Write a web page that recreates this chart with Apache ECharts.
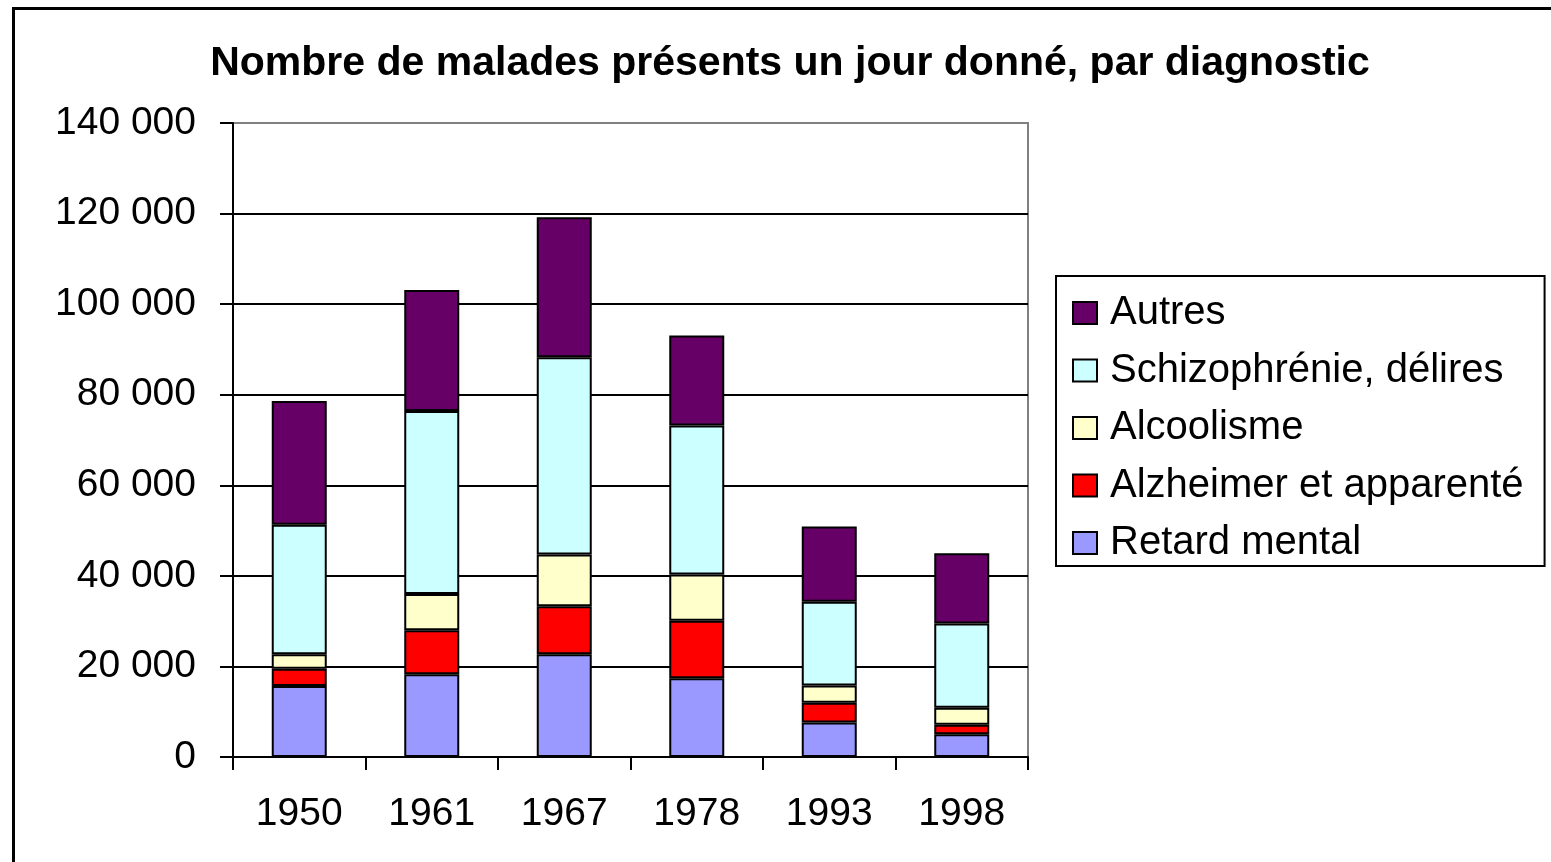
<!DOCTYPE html>
<html>
<head>
<meta charset="utf-8">
<title>Nombre de malades présents un jour donné, par diagnostic</title>
<script src="https://cdn.jsdelivr.net/npm/echarts@6/dist/echarts.min.js"></script>
<style>
	html, body { margin: 0; padding: 0; background: #fff; overflow: hidden; }
	#main { position: absolute; left: 0; top: 0; width: 1551px; height: 862px; }
	#cadre { position: absolute; left: 12px; top: 7px; width: 1600px; height: 900px; border: 3px solid #000; pointer-events: none; }
	#coin { position: absolute; left: 0; top: 0; width: 62px; height: 10px; background: linear-gradient(to right, #4848c8, #ffffff); }
</style>
</head>
<body>
<div id="coin"></div>
<div id="main"></div>
<div id="cadre"></div>
<script>
// données
var annees = ['1950', '1961', '1967', '1978', '1993', '1998'];
var retard = [15700, 18300, 22700, 17400, 7600, 5000];
var alzheimer = [3800, 9700, 10600, 12700, 4400, 2100];
var alcoolisme = [3200, 8000, 11400, 10200, 3800, 3800];
var schizo = [28600, 40400, 43600, 32900, 18500, 18600];
var autres = [27300, 26700, 30900, 19900, 16600, 15500];

var noms = ['Retard mental', 'Alzheimer et apparenté', 'Alcoolisme', 'Schizophrénie, délires', 'Autres'];
var couleurs = ['#9999FF', '#FF0000', '#FFFFCC', '#CCFFFF', '#660066'];
var valeurs = [retard, alzheimer, alcoolisme, schizo, autres];

var police = '"Liberation Sans", Arial, sans-serif';

var myChart = echarts.init(document.getElementById('main'));

var series = [];
for (var i = 0; i < noms.length; i++) {
	series.push({
		name: noms[i],
		type: 'bar',
		stack: 'total',
		barWidth: 55,
		data: valeurs[i],
		itemStyle: { color: couleurs[i], borderColor: '#000', borderWidth: 2 }
	});
}

var option = {
	animation: false,
	backgroundColor: '#fff',
	textStyle: { fontFamily: police },
	title: {
		text: 'Nombre de malades présents un jour donné, par diagnostic',
		left: 785,
		top: 38,
		textAlign: 'center',
		textStyle: { fontFamily: police, fontSize: 41, fontWeight: 'bold', color: '#000' }
	},
	legend: {
		orient: 'vertical',
		left: 1056,
		top: 276,
		padding: [17, 21, 3, 16],
		itemGap: 17.5,
		itemWidth: 24,
		itemHeight: 22,
		backgroundColor: '#fff',
		borderColor: '#000',
		borderWidth: 2,
		borderRadius: 0,
		icon: 'rect',
		data: noms.slice().reverse(),
		textStyle: { fontFamily: police, fontSize: 40, color: '#000', lineHeight: 40, padding: [0, 0, 0, 8] }
	},
	grid: {
		left: 233,
		right: 523,
		top: 123,
		bottom: 105,
		show: true,
		borderColor: '#808080',
		borderWidth: 2
	},
	xAxis: {
		type: 'category',
		data: annees,
		axisLine: { lineStyle: { color: '#000', width: 2 } },
		axisTick: { show: true, length: 13, alignWithLabel: false, lineStyle: { color: '#000', width: 2 } },
		axisLabel: { color: '#000', fontSize: 39, fontFamily: police, margin: 38 }
	},
	yAxis: {
		type: 'value',
		min: 0,
		max: 140000,
		interval: 20000,
		axisLine: { show: true, lineStyle: { color: '#000', width: 2 } },
		axisTick: { show: true, length: 13, lineStyle: { color: '#000', width: 2 } },
		splitLine: { show: true, showMaxLine: false, lineStyle: { color: '#000', width: 2 } },
		axisLabel: {
			color: '#000',
			fontSize: 39,
			fontFamily: police,
			margin: 37,
			padding: [5, 0, 0, 0],
			formatter: function (v) {
				return String(v).replace(/\B(?=(\d{3})+(?!\d))/g, ' ');
			}
		}
	},
	series: series
};

myChart.setOption(option);
</script>
</body>
</html>
